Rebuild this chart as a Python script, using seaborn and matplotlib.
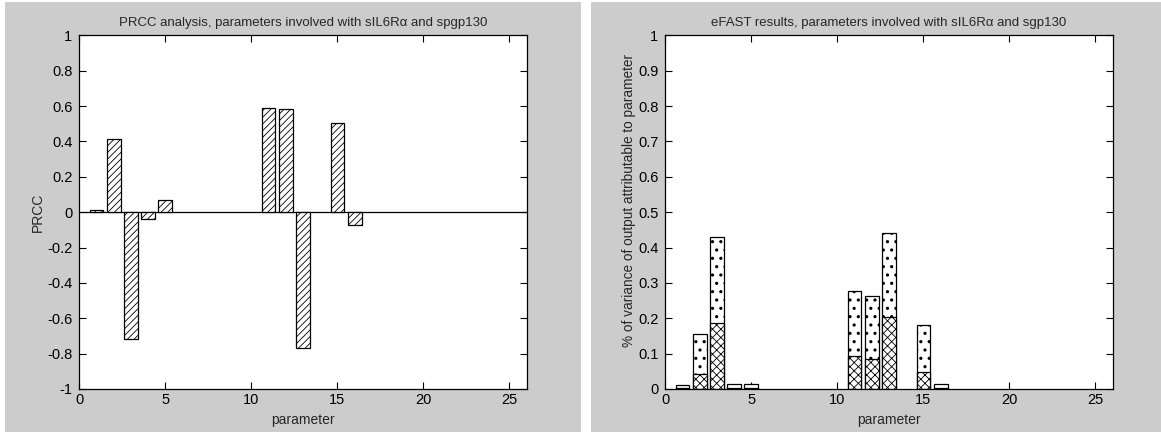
import numpy as np
import pandas as pd
import seaborn as sns
import matplotlib
matplotlib.use("Agg")
import matplotlib.pyplot as plt
from matplotlib.patches import Rectangle

# Sensitivity indices for the 25 model parameters (sIL6Ralpha / sgp130 block)
parameters = list(range(1, 26))
prcc = [0.012, 0.413, -0.717, -0.036, 0.070, 0, 0, 0, 0, 0,
        0.588, 0.582, -0.770, 0, 0.506, -0.071, 0, 0, 0, 0,
        0, 0, 0, 0, 0]
efast_total = [0.011, 0.156, 0.430, 0.013, 0.013, 0, 0, 0, 0, 0,
               0.276, 0.264, 0.442, 0, 0.180, 0.013, 0, 0, 0, 0,
               0, 0, 0, 0, 0]
efast_first = [0.004, 0.042, 0.188, 0.004, 0.004, 0, 0, 0, 0, 0,
               0.092, 0.086, 0.203, 0, 0.048, 0.003, 0, 0, 0, 0,
               0, 0, 0, 0, 0]

prcc_yticks = [-1, -0.8, -0.6, -0.4, -0.2, 0, 0.2, 0.4, 0.6, 0.8, 1]
prcc_yticklabels = ["-1", "-0.8", "-0.6", "-0.4", "-0.2", "0", "0.2", "0.4", "0.6", "0.8", "1"]
efast_yticks = [0, 0.1, 0.2, 0.3, 0.4, 0.5, 0.6, 0.7, 0.8, 0.9, 1]
efast_yticklabels = ["0", "0.1", "0.2", "0.3", "0.4", "0.5", "0.6", "0.7", "0.8", "0.9", "1"]
xticks = [0, 5, 10, 15, 20, 25]

df = pd.DataFrame({"parameter": parameters, "prcc": prcc,
                   "total": efast_total, "first": efast_first})
# parameters with a zero index draw no bar
df_prcc = df[df["prcc"] != 0]
df_efast = df[df["total"] != 0]

sns.set_style("ticks")
plt.rcParams["font.family"] = ["Liberation Sans", "DejaVu Sans"]
plt.rcParams["axes.linewidth"] = 0.9

W, H = 1161, 434
fig = plt.figure(figsize=(W / 100, H / 100), dpi=100)
fig.patch.set_facecolor("white")

# grey window panels behind each plot
for x0, x1 in [(5, 581), (591, 1161)]:
    fig.patches.append(Rectangle((x0 / W, 1 - 432 / H), (x1 - x0) / W, 430 / H,
                                 transform=fig.transFigure, facecolor="#cccccc",
                                 edgecolor="none", zorder=-10))

ax_l = fig.add_axes([79.3 / W, 1 - 389 / H, 447.4 / W, 353.7 / H])
ax_r = fig.add_axes([665.3 / W, 1 - 389 / H, 447.4 / W, 353.7 / H])

bar_kw = dict(native_scale=True, color="white", saturation=1, edgecolor="black",
              linewidth=0.9, errorbar=None, width=0.8)


def hatched_bars(ax, data, col, hatch, hatch_lw):
    n_before = len(ax.patches)
    with plt.rc_context({"hatch.linewidth": hatch_lw}):
        sns.barplot(data=data, x="parameter", y=col, ax=ax, hatch=hatch, **bar_kw)
    for p in ax.patches[n_before:]:
        if hasattr(p, "set_hatch_linewidth"):
            p.set_hatch_linewidth(hatch_lw)


# PRCC panel
ax_l.axhline(0, color="black", lw=0.9, zorder=0.5)
hatched_bars(ax_l, df_prcc, "prcc", "/////", 0.6)
ax_l.set_ylim(-1, 1)
ax_l.set_yticks(prcc_yticks, prcc_yticklabels)
ax_l.set_ylabel("PRCC", fontsize=10)
ax_l.yaxis.set_label_coords(-0.0767, 0.5)
ax_l.set_title("PRCC analysis, parameters involved with sIL6R\u03b1 and spgp130",
               fontsize=9.5, pad=7)

# eFAST panel: total-order index with first-order part drawn over its lower section
hatched_bars(ax_r, df_efast, "total", "..", 1.1)
hatched_bars(ax_r, df_efast, "first", "xxxx", 0.6)
ax_r.set_ylim(0, 1)
ax_r.set_yticks(efast_yticks, efast_yticklabels)
ax_r.set_ylabel("% of variance of output attributable to parameter", fontsize=9.8)
ax_r.yaxis.set_label_coords(-0.0655, 0.534)
ax_r.set_title("eFAST results, parameters involved with sIL6R\u03b1 and sgp130",
               fontsize=9.5, pad=7)

for ax in (ax_l, ax_r):
    ax.set_xlim(0, 26)
    ax.set_xticks(xticks, [str(t) for t in xticks])
    ax.set_xlabel("parameter", fontsize=10, labelpad=4)
    ax.set_facecolor("white")
    ax.tick_params(direction="in", top=True, right=True, length=5, width=0.8,
                   labelsize=10.5, colors="black")
    ax.tick_params(axis="x", pad=3)
    ax.tick_params(axis="y", pad=5)
    for s in ax.spines.values():
        s.set_visible(True)
        s.set_color("black")
        s.set_linewidth(0.9)

fig.savefig("out.png", dpi=100, facecolor=fig.get_facecolor())
